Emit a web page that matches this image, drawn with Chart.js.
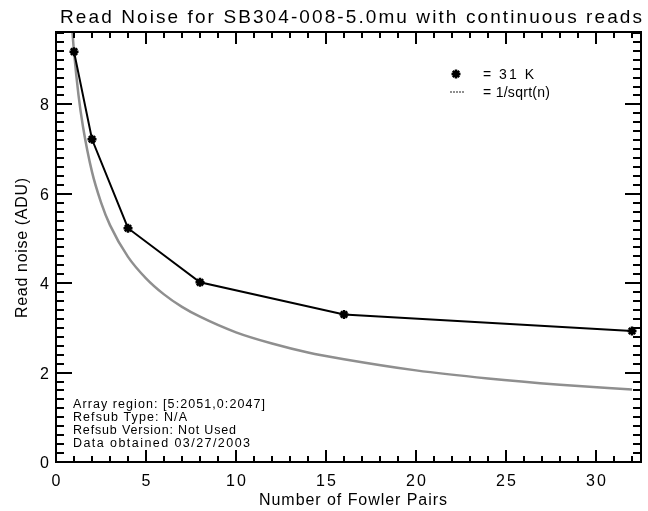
<!DOCTYPE html>
<html>
<head>
<meta charset="utf-8">
<script src="https://cdn.jsdelivr.net/npm/chart.js@4/dist/chart.umd.min.js"></script>
<style>
  html, body { margin: 0; padding: 0; background: #fff; }
  #wrap { width: 648px; height: 511px; }
</style>
</head>
<body>
<div id="wrap"><canvas id="c" width="648" height="511"></canvas></div>
<script>
// ---- data ----
const chartTitle = 'Read Noise for SB304-008-5.0mu with continuous reads';
const xTitle = 'Number of Fowler Pairs';
const yTitle = 'Read noise (ADU)';
const fowlerPairs = [1, 2, 4, 8, 16, 32];
const readNoise31K = [9.18, 7.22, 5.23, 4.02, 3.30, 2.93];
// reference 1/sqrt(n) curve
const curveN =     [0.85, 1, 1.25, 1.5, 2, 2.5, 3, 4, 5, 6, 7, 8, 10, 12, 14, 16, 20, 24, 28, 32];
const curveNoise = [9.96, 9.18, 8.21, 7.50, 6.49, 5.81, 5.30, 4.59, 4.11, 3.75, 3.47, 3.25, 2.90, 2.65, 2.45, 2.30, 2.05, 1.87, 1.73, 1.62];
const xTickValues = [0, 5, 10, 15, 20, 25, 30];
const xTickLabels = ['0', '5', '10', '15', '20', '25', '30'];
const yTickValues = [0, 2, 4, 6, 8];
const yTickLabels = ['0', '2', '4', '6', '8'];
const legendLabels = ['= 31 K', '= 1/sqrt(n)'];
const notes = ['Array region: [5:2051,0:2047]', 'Refsub Type: N/A', 'Refsub Version: Not Used', 'Data obtained 03/27/2003'];

const FONT = '"Liberation Sans", Arial, sans-serif';

function fitText(ctx, text, x, y, width, size, align) {
  ctx.font = size + 'px ' + FONT;
  ctx.letterSpacing = '0px';
  const w = ctx.measureText(text).width;
  const n = Math.max(text.length - 1, 1);
  const ls = (width - w) / n;
  ctx.letterSpacing = ls + 'px';
  let lx = x;
  if (align === 'center') lx = x - width / 2;
  else if (align === 'right') lx = x - width;
  ctx.textAlign = 'left';
  ctx.fillText(text, lx, y);
  ctx.letterSpacing = '0px';
}

const decor = {
  id: 'decor',
  afterDraw(chart) {
    const { ctx, chartArea: { left, right, top, bottom }, scales: { x, y } } = chart;
    ctx.save();
    ctx.strokeStyle = '#000';
    ctx.fillStyle = '#000';
    ctx.lineWidth = 2;
    ctx.lineCap = 'butt';
    ctx.strokeRect(left, top, right - left, bottom - top);
    ctx.beginPath();
    for (let v = 0; v <= x.max; v += 1) {
      const px = Math.round(x.getPixelForValue(v));
      const len = (v % 5 === 0) ? 12 : 6;
      ctx.moveTo(px, bottom); ctx.lineTo(px, bottom - len);
      ctx.moveTo(px, top); ctx.lineTo(px, top + len);
    }
    for (let i = 0; i * 0.2 <= y.max + 1e-9; i++) {
      const py = Math.round(y.getPixelForValue(i * 0.2));
      const len = (i % 10 === 0) ? 16 : 8;
      ctx.moveTo(left, py); ctx.lineTo(left + len, py);
      ctx.moveTo(right, py); ctx.lineTo(right - len, py);
    }
    ctx.stroke();

    ctx.textBaseline = 'alphabetic';
    xTickValues.forEach((v, i) => {
      const px = x.getPixelForValue(v);
      const t = xTickLabels[i];
      fitText(ctx, t, px, 486, t.length === 1 ? 9 : 20, 16, 'center');
    });
    yTickValues.forEach((v, i) => {
      const py = y.getPixelForValue(v);
      const t = yTickLabels[i];
      fitText(ctx, t, 49, py + 6, t.length === 1 ? 9 : 20, 16, 'right');
    });

    fitText(ctx, chartTitle, 351, 23, 582, 19, 'center');
    fitText(ctx, xTitle, 353, 505, 188, 16, 'center');
    ctx.save();
    ctx.translate(27, 248);
    ctx.rotate(-Math.PI / 2);
    fitText(ctx, yTitle, 0, 0, 140, 16, 'center');
    ctx.restore();

    // legend
    ctx.strokeStyle = '#000';
    ctx.fillStyle = '#000';
    ctx.lineWidth = 2.5;
    Chart.helpers.drawPoint(ctx, { pointStyle: 'star', radius: 4.5, rotation: 0, borderWidth: 2.5 }, 456, 74);
    ctx.strokeStyle = '#8f8f8f';
    ctx.lineWidth = 2;
    ctx.setLineDash([2, 1]);
    ctx.beginPath(); ctx.moveTo(450, 92); ctx.lineTo(464, 92); ctx.stroke();
    ctx.setLineDash([]);
    ctx.fillStyle = '#000';
    fitText(ctx, legendLabels[0], 483, 79, 51, 14, 'left');
    fitText(ctx, legendLabels[1], 483, 97, 67, 14, 'left');

    const noteW = [192, 114, 163, 177];
    const noteY = [408, 421, 434, 447];
    notes.forEach((t, i) => fitText(ctx, t, 73, noteY[i], noteW[i], 12.5, 'left'));
    ctx.restore();
  }
};

new Chart(document.getElementById('c'), {
  type: 'scatter',
  data: {
    datasets: [
      {
        label: '31 K',
        data: fowlerPairs.map((n, i) => ({ x: n, y: readNoise31K[i] })),
        showLine: true,
        borderColor: '#000',
        borderWidth: 2,
        pointStyle: 'star',
        pointRadius: 4.5,
        pointBorderWidth: 2.5,
        pointBorderColor: '#000',
        pointBackgroundColor: '#000',
        clip: 0
      },
      {
        label: '1/sqrt(n)',
        data: curveN.map((n, i) => ({ x: n, y: curveNoise[i] })),
        showLine: true,
        borderColor: '#8f8f8f',
        borderWidth: 2.5,
        pointRadius: 0,
        cubicInterpolationMode: 'monotone',
        clip: 0
      }
    ]
  },
  options: {
    responsive: false,
    devicePixelRatio: 1,
    animation: false,
    layout: { padding: { top: 32, right: 6, left: 0, bottom: 0 } },
    plugins: { legend: { display: false }, title: { display: false }, tooltip: { enabled: false } },
    scales: {
      x: {
        type: 'linear', min: 0, max: 32.5,
        grid: { display: false }, border: { display: false },
        ticks: { display: false },
        afterBuildTicks: s => { s.ticks = xTickValues.map(v => ({ value: v })); },
        afterFit: s => { s.height = 49; }
      },
      y: {
        type: 'linear', min: 0, max: 9.62,
        grid: { display: false }, border: { display: false },
        ticks: { display: false },
        afterBuildTicks: s => { s.ticks = yTickValues.map(v => ({ value: v })); },
        afterFit: s => { s.width = 56; }
      }
    }
  },
  plugins: [decor]
});
</script>
</body>
</html>
